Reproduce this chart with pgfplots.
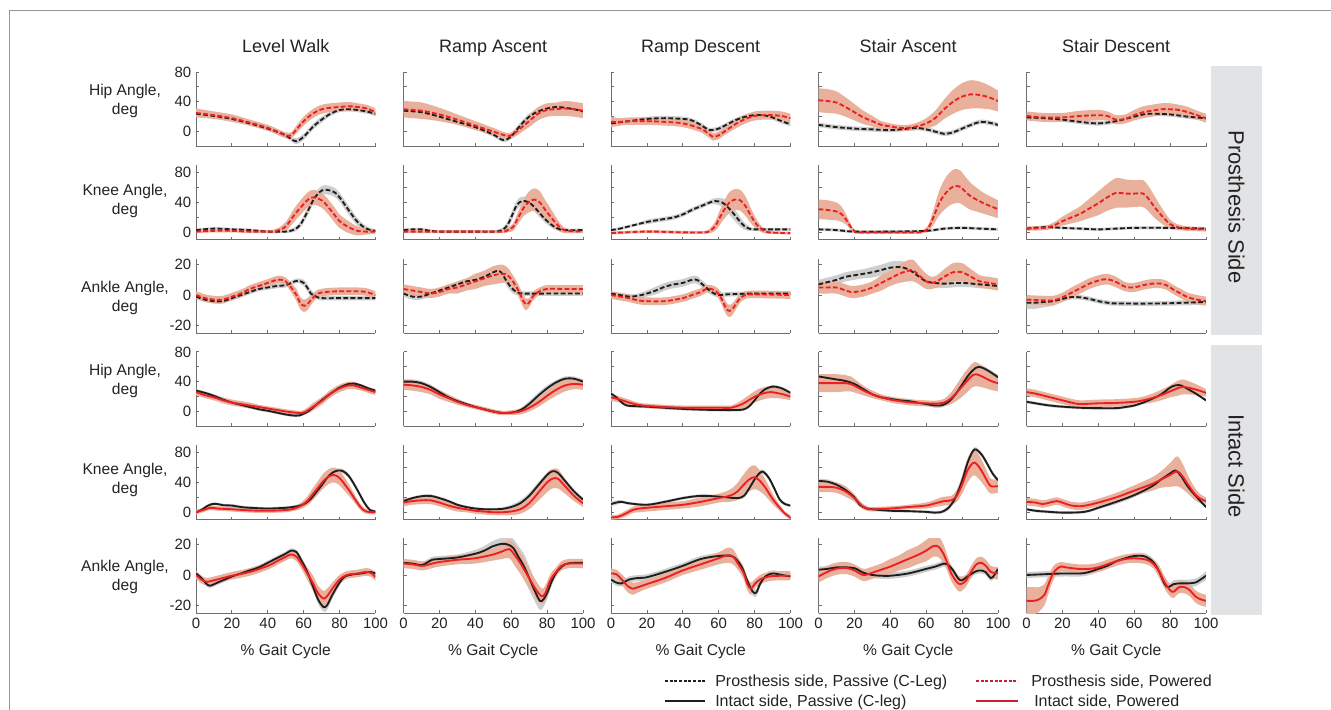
\documentclass[border=0pt]{standalone}
\usepackage{fontspec}
\setmainfont{Liberation Sans}
\usepackage{pgfplots}
\pgfplotsset{compat=1.18}
\usepackage{pgfplotstable}
\usepgfplotslibrary{fillbetween}

\definecolor{lnred}{RGB}{236,32,36}
\definecolor{lgred}{RGB}{205,32,45}
\definecolor{bandred}{RGB}{233,176,156}
\definecolor{bandgray}{RGB}{206,206,206}
\definecolor{lnblk}{RGB}{30,30,30}
\definecolor{axgray}{RGB}{110,110,110}
\definecolor{boxgray}{RGB}{226,227,229}
\definecolor{framegray}{RGB}{150,150,150}
\definecolor{txt}{RGB}{35,35,35}

\newcommand\pxu{0.75pt}

% ---------- Row A: prosthesis hip ----------
\pgfplotstableread[row sep=\\]{x m s\\0 24 3\\10 21 3\\20 17 3\\30 11 3\\40 4 3\\45 0 3\\50 -5 3\\53 -10 3\\56 -13 4\\60 -7 4\\65 6 4\\70 16 4\\75 24 3\\80 29 3\\85 30 3\\90 29 3\\95 27 3\\100 24 3\\}\tabAAk
\pgfplotstableread[row sep=\\]{x m s\\0 25 6\\10 22 5\\20 18 5\\30 12 4\\40 5 4\\45 0 4\\50 -5 4\\53 -5 4\\56 3 5\\60 14 6\\65 24 6\\70 30 6\\75 32 6\\80 33 6\\85 34 6\\90 33 5\\95 31 5\\100 26 5\\}\tabAAr
\pgfplotstableread[row sep=\\]{x m s\\0 28 3\\10 26 3\\20 20 3\\30 13 3\\40 6 3\\50 -4 3\\55 -11 3\\58 -10 3\\61 -4 4\\65 8 4\\70 20 4\\75 27 4\\80 31 3\\85 33 3\\90 32 3\\95 30 3\\100 27 3\\}\tabABk
\pgfplotstableread[row sep=\\]{x m s\\0 30 11\\10 28 11\\20 23 9\\30 16 7\\40 8 6\\50 0 5\\55 -4 4\\59 -6 4\\62 -2 5\\65 4 6\\70 14 8\\75 24 9\\80 29 9\\85 30 9\\90 31 10\\95 30 10\\100 28 10\\}\tabABr
\pgfplotstableread[row sep=\\]{x m s\\0 11 3\\10 14 3\\20 17 3\\30 18 3\\40 17 3\\45 15 3\\50 9 3\\55 2 3\\60 4 3\\65 10 3\\70 16 3\\75 20 3\\80 22 3\\85 22 3\\90 19 3\\95 14 3\\100 10 3\\}\tabACk
\pgfplotstableread[row sep=\\]{x m s\\0 13 7\\5 13 5\\10 14 5\\20 14 5\\30 13 5\\40 11 5\\50 4 5\\55 -4 5\\57 -7 5\\60 -5 5\\65 3 5\\70 11 6\\75 17 6\\80 21 6\\85 22 6\\90 22 6\\95 21 6\\100 18 6\\}\tabACr
\pgfplotstableread[row sep=\\]{x m s\\0 9 3\\10 6 3\\20 4 3\\30 3 3\\40 2 3\\50 4 3\\55 5 3\\60 3 3\\65 0 3\\70 -3 3\\75 -1 3\\80 4 3\\85 9 3\\90 13 3\\95 12 3\\100 9 3\\}\tabADk
\pgfplotstableread[row sep=\\]{x m s\\0 42 16\\5 41 16\\10 39 15\\15 33 13\\20 26 11\\25 19 9\\30 14 7\\35 9 5\\40 7 4\\45 5 4\\50 5 4\\55 7 5\\60 11 7\\65 18 10\\70 30 13\\75 40 16\\80 47 18\\85 50 19\\90 49 18\\95 46 16\\100 41 14\\}\tabADr
\pgfplotstableread[row sep=\\]{x m s\\0 19 3\\10 18 3\\20 16 3\\30 13 3\\40 11 3\\50 14 3\\55 17 3\\60 20 3\\65 23 3\\70 24 3\\80 23 3\\90 20 3\\100 18 3\\}\tabAEk
\pgfplotstableread[row sep=\\]{x m s\\0 21 6\\10 19 6\\20 19 6\\30 21 7\\40 22 7\\45 21 6\\50 16 6\\55 17 6\\60 22 7\\65 26 8\\70 28 8\\75 30 8\\80 30 8\\85 29 7\\90 26 7\\95 22 6\\100 18 6\\}\tabAEr

% ---------- Row B: prosthesis knee ----------
\pgfplotstableread[row sep=\\]{x m s\\0 3 2\\10 5 2\\20 4 2\\30 3 2\\40 1 2\\50 1 2\\55 4 3\\58 10 4\\60 18 5\\63 32 6\\66 46 6\\70 56 6\\73 57 6\\77 54 6\\80 47 6\\85 30 6\\90 14 5\\95 5 3\\100 2 2\\}\tabBAk
\pgfplotstableread[row sep=\\]{x m s\\0 1 2\\10 2 2\\20 2 2\\30 1 2\\40 1 2\\45 2 3\\50 8 6\\55 24 9\\60 38 10\\63 45 10\\66 47 10\\70 43 10\\73 36 10\\77 24 10\\80 15 9\\85 7 8\\90 2 6\\95 1 4\\100 1 3\\}\tabBAr
\pgfplotstableread[row sep=\\]{x m s\\0 3 2\\5 4 2\\10 4 2\\15 2 2\\20 1 2\\30 1 2\\40 1 2\\50 1 2\\55 3 3\\58 10 5\\60 20 6\\63 36 6\\66 42 6\\70 40 6\\74 31 6\\78 20 5\\82 11 4\\86 5 3\\90 3 2\\100 3 2\\}\tabBBk
\pgfplotstableread[row sep=\\]{x m s\\0 1 2\\20 1 2\\40 1 2\\55 1 2\\58 3 3\\61 7 5\\64 20 8\\67 33 11\\70 41 14\\73 44 15\\76 40 15\\79 30 13\\82 21 11\\85 12 8\\88 5 5\\91 2 3\\100 1 2\\}\tabBBr
\pgfplotstableread[row sep=\\]{x m s\\0 3 2\\5 5 2\\10 8 2\\15 11 2\\20 14 3\\25 16 3\\30 18 3\\35 20 3\\40 24 3\\45 30 3\\50 35 3\\55 40 3\\58 42 4\\62 40 6\\65 34 8\\68 26 8\\71 17 7\\74 9 5\\77 5 3\\80 4 2\\90 4 2\\100 4 2\\}\tabBCk
\pgfplotstableread[row sep=\\]{x m s\\0 -1 2\\20 1 2\\40 0 2\\52 0 2\\55 2 3\\58 8 6\\60 17 9\\63 30 12\\66 40 14\\69 44 14\\72 43 14\\75 35 13\\78 22 10\\81 11 7\\84 4 4\\88 0 2\\100 -1 2\\}\tabBCr
\pgfplotstableread[row sep=\\]{x m s\\0 4 2\\10 3 2\\20 1 2\\40 1 2\\60 2 2\\70 5 2\\80 6 2\\90 5 2\\100 4 2\\}\tabBDk
\pgfplotstableread[row sep=\\]{x m s\\0 31 13\\5 30 13\\10 28 12\\13 24 10\\16 15 6\\18 7 4\\20 2 2\\22 0 2\\40 0 2\\55 0 2\\58 1 2\\61 5 4\\64 20 10\\67 38 16\\70 50 20\\73 58 22\\76 62 23\\79 61 22\\82 54 20\\85 48 18\\88 44 16\\92 39 14\\96 35 13\\100 31 12\\}\tabBDr
\pgfplotstableread[row sep=\\]{x m s\\0 5 2\\10 7 2\\20 6 2\\30 5 2\\40 4 2\\50 5 2\\60 6 2\\80 6 2\\100 5 2\\}\tabBEk
\pgfplotstableread[row sep=\\]{x m s\\0 5 3\\10 6 3\\15 9 4\\20 15 6\\25 20 8\\30 25 10\\35 32 13\\40 39 16\\45 47 18\\50 53 20\\55 52 19\\60 52 18\\65 52 18\\68 45 17\\71 35 15\\74 26 12\\77 18 9\\80 11 6\\84 7 4\\90 5 3\\100 4 3\\}\tabBEr

% ---------- Row C: prosthesis ankle ----------
\pgfplotstableread[row sep=\\]{x m s\\0 -1 1.5\\5 -3 1.5\\10 -4 1.5\\15 -4 1.5\\20 -2 1.5\\25 0 1.5\\30 2 1.5\\35 4 1.5\\40 5 1.5\\45 6 1.5\\50 6.5 1.5\\55 9 1.5\\57 9.5 1.5\\60 8 2\\62 5 2.5\\64 1 2.5\\67 -1 1.5\\70 -2 1.5\\80 -2 1.5\\90 -2 1.5\\100 -2 1.5\\}\tabCAk
\pgfplotstableread[row sep=\\]{x m s\\0 0 2.5\\5 -2 2.5\\10 -3 2.5\\15 -3 2.5\\20 -1 2.5\\25 1 2.5\\30 4 2.5\\35 6 2.5\\40 8 2.5\\45 10 2.5\\48 10 2.5\\50 9 2.5\\53 5 3\\56 0 4\\58 -5 4\\60 -7 4\\62 -6 4\\65 -2 3\\68 1 2.5\\72 2 2.5\\80 2.5 2.5\\90 2.5 2.5\\95 2 2.5\\100 0 2.5\\}\tabCAr
\pgfplotstableread[row sep=\\]{x m s\\0 1 2\\5 -1 2\\10 -1 2\\15 1 2\\20 3 2\\25 5 2\\30 7 2\\35 9 2\\40 10 2\\45 12 2\\50 15 2\\53 16 2\\55 14 2.5\\57 10 3\\60 5 3\\63 2 2\\67 1 1.5\\80 1 1.5\\100 1 1.5\\}\tabCBk
\pgfplotstableread[row sep=\\]{x m s\\0 4 3\\5 3 3\\10 2 3\\15 1 3\\20 2 3\\25 4 3\\30 5 4\\35 7 4\\40 9 5\\45 11 5\\50 13 6\\55 14 6\\58 13 5\\61 9 4\\64 3 4\\66 -2 4\\68 -6 4\\70 -5 3\\72 -1 3\\75 2 2.5\\80 4 2.5\\90 4 2.5\\100 4 2.5\\}\tabCBr
\pgfplotstableread[row sep=\\]{x m s\\0 1 1.5\\5 0 1.5\\10 -1 1.5\\15 -0.5 1.5\\20 1 2\\25 3 2.5\\30 5.5 2.5\\35 7 2.5\\40 8 2.5\\45 10 2.5\\48 10 2.5\\50 8 2.5\\53 5 2.5\\56 2 2\\60 0 1.5\\65 0.5 1.5\\80 1 1.5\\100 1 1.5\\}\tabCCk
\pgfplotstableread[row sep=\\]{x m s\\0 0 2.5\\5 -1 2.5\\10 -2 2.5\\15 -3.5 2.5\\20 -4 2.5\\30 -4 2.5\\40 -2 2.5\\45 0 2.5\\50 2 2.5\\53 4 2.5\\56 4 2.5\\59 2 3\\61 -1 3.5\\63 -6 4\\65 -10 4\\67 -10 4\\69 -7 3.5\\72 -2 3\\75 0 2.5\\80 0.5 2.5\\100 0 2.5\\}\tabCCr
\pgfplotstableread[row sep=\\]{x m s\\0 7 3\\5 8.5 3\\10 10 3\\15 12 3\\20 13 3\\25 14 3\\30 15 3.5\\35 16.5 3.5\\40 18 4\\45 18.5 4\\50 17 4\\55 13 3.5\\60 9 3\\65 8 3\\70 7.5 3\\80 8 2.5\\90 7 2.5\\100 6 2.5\\}\tabCDk
\pgfplotstableread[row sep=\\]{x m s\\0 5 4\\5 5 4\\10 5 4\\14 3.5 4\\18 2 4\\20 2 4\\25 3 4\\30 5 4\\35 8 5\\40 11 5\\45 14 6\\50 16 7\\53 16 7\\56 13 6\\60 9 5\\63 8 4\\66 9 4\\70 12 5\\75 15 6\\80 15 6\\85 12 5\\90 9 4\\95 8 4\\100 7 4\\}\tabCDr
\pgfplotstableread[row sep=\\]{x m s\\0 -5 4\\5 -5 4\\10 -4.5 3.5\\15 -4 3\\20 -2.5 2\\25 -1.3 1.5\\30 -1.5 1.5\\35 -2.5 1.5\\40 -4 1.5\\45 -5 1.5\\50 -5.5 1.5\\75 -5.5 1.5\\100 -4.5 2\\}\tabCEk
\pgfplotstableread[row sep=\\]{x m s\\0 -3 3\\10 -3.5 3\\15 -3.5 3\\20 -1.5 3\\25 1.5 3.5\\30 4.5 3.5\\35 7.5 3.5\\40 9.5 3.5\\45 10.5 3.5\\50 8.5 3.5\\55 5.5 3\\60 5 3\\65 6.5 3\\70 7.5 3\\75 7.5 3\\78 6.5 3\\82 3.5 3\\86 1 3\\90 -1.5 3\\95 -3 3\\100 -4 3\\}\tabCEr

% ---------- Row D: intact hip ----------
\pgfplotstableread[row sep=\\]{x m s\\0 28 2\\5 25 2\\10 21 2\\15 16 2\\20 12 2\\25 9 2\\30 6 2\\35 3 2\\40 1 2\\45 -1.5 2\\50 -4 2\\55 -5.5 2\\58 -5 2\\60 -3 2\\63 1 2\\66 7 2\\70 15 2\\75 24 2\\80 32 2\\85 37 2\\88 37.5 2\\92 35 2\\96 31 2\\100 28 2\\}\tabDAk
\pgfplotstableread[row sep=\\]{x m s\\0 26 4\\5 22 4\\10 19 4\\15 15 4\\20 12 4\\25 10 4\\30 8 4\\35 6 3\\40 4 3\\45 2 3\\50 0 3\\55 -1.5 3\\59 -2 3\\62 1 4\\65 6 5\\70 14 5\\75 24 5\\80 31 5\\85 35 5\\88 35 5\\92 32 4\\96 29 4\\100 26 4\\}\tabDAr
\pgfplotstableread[row sep=\\]{x m s\\0 40 3\\5 40 3\\10 38 3\\15 33 3\\20 26 3\\25 19 3\\30 14 3\\35 10 2\\40 6 2\\45 3 2\\50 0 2\\55 -2 2\\60 -1.5 2\\63 0 2\\66 3 3\\70 10 4\\75 21 4\\80 31 4\\85 39 3\\90 44 3\\95 44 3\\100 40 3\\}\tabDBk
\pgfplotstableread[row sep=\\]{x m s\\0 36 7\\5 35 7\\10 33 7\\15 29 6\\20 23 6\\25 18 5\\30 13 4\\35 9 3\\40 6 3\\45 3 3\\50 0 3\\55 -2 3\\60 -1.5 3\\65 0 4\\70 5 5\\75 12 6\\80 21 7\\85 29 8\\90 35 8\\95 37 7\\100 36 7\\}\tabDBr
\pgfplotstableread[row sep=\\]{x m s\\0 24 2\\3 19 2\\6 12 2\\9 8 2\\15 7 2\\20 6.5 2\\30 5 2\\40 3.5 2\\50 2.5 2\\60 2 2\\70 2 2\\74 3 2\\77 7 2\\80 15 2\\83 24 2\\86 30 2\\90 33.5 2\\94 32 2\\97 29 2\\100 25 2\\}\tabDCk
\pgfplotstableread[row sep=\\]{x m s\\0 19 5\\5 16 4\\10 12 4\\15 9 3\\20 7.5 3\\30 6 3\\40 5 3\\50 5 3\\60 5 3\\67 5 3\\70 7 4\\74 11 6\\78 17 7\\82 22 8\\86 25 8\\89 26 8\\92 25 7\\96 23 6\\100 20 5\\}\tabDCr
\pgfplotstableread[row sep=\\]{x m s\\0 47 3\\5 45 3\\10 43 3\\15 41 3\\20 37 3\\25 30 3\\30 23 3\\35 19 3\\40 17 3\\45 15 3\\50 14 3\\55 12 3\\60 10 3\\65 8 3\\68 8 3\\72 12 3\\76 22 3\\80 36 3\\84 50 3\\88 59 3\\91 59 3\\95 54 3\\100 46 3\\}\tabDDk
\pgfplotstableread[row sep=\\]{x m s\\0 38 12\\5 38 12\\10 38 12\\15 38 11\\18 37 10\\22 32 8\\26 27 6\\30 23 5\\35 19 4\\40 16 4\\45 14 4\\50 12.5 4\\55 11.5 4\\60 11 4\\65 10.5 4\\70 12 5\\74 18 8\\78 28 12\\82 39 15\\86 49 16\\88 50 16\\92 46 14\\96 41 12\\100 38 11\\}\tabDDr
\pgfplotstableread[row sep=\\]{x m s\\0 13 2\\5 11 2\\10 9 2\\15 7.5 2\\20 6.5 2\\30 5 2\\40 4.5 2\\50 4.5 2\\55 6 2\\60 8 2\\65 12 2\\70 17 2\\75 23 2\\80 32 2\\83 35 2\\86 35 2\\90 30 2\\95 23 2\\100 15 2\\}\tabDEk
\pgfplotstableread[row sep=\\]{x m s\\0 26 5\\5 24 5\\10 21 5\\15 18 5\\20 15 5\\25 12 5\\30 10 5\\40 11 5\\50 11.5 5\\60 13 5\\65 15 5\\70 18 6\\75 22 7\\80 27 8\\84 31 10\\87 33 10\\90 32 9\\95 29 7\\100 25 5\\}\tabDEr

% ---------- Row E: intact knee ----------
\pgfplotstableread[row sep=\\]{x m s\\0 0 1.5\\3 3 2\\6 8 2\\9 11 2\\12 11 2\\15 9.5 2\\20 9 2\\25 7 2\\30 6 2\\40 5 2\\50 6 2\\55 7.5 2\\58 9 2\\61 12 2\\64 18 3\\67 27 3\\70 36 3\\73 46 3\\76 53 3\\79 56 3\\82 55 3\\85 49 3\\88 38 3\\91 25 3\\94 12 3\\97 3 2\\100 1 2\\}\tabEAk
\pgfplotstableread[row sep=\\]{x m s\\0 0 3\\4 3 3\\8 6 3\\12 5 3\\20 4 3\\30 2.5 3\\40 2 3\\50 3 3\\55 5 3\\58 8 4\\62 15 6\\65 24 8\\68 33 9\\71 42 10\\74 48 10\\77 50 10\\80 46 10\\83 37 9\\86 27 7\\89 16 5\\92 6 4\\95 1 3\\100 0 3\\}\tabEAr
\pgfplotstableread[row sep=\\]{x m s\\0 15 2\\5 19 2\\10 21.5 2\\15 22 2\\20 19 2\\25 15 2\\30 10 2\\35 7 2\\40 5 2\\45 4 2\\50 4 2\\55 4.5 2\\60 7 3\\65 12 4\\70 22 4\\75 36 4\\80 50 3\\83 55 3\\86 53 3\\90 42 3\\95 28 3\\100 17 2\\}\tabEBk
\pgfplotstableread[row sep=\\]{x m s\\0 13 5\\5 15 5\\10 16 5\\15 16 5\\20 13 5\\25 9 5\\30 6 5\\35 4 4\\40 2 4\\45 1 4\\50 0 4\\55 0 4\\60 1 5\\65 4 6\\70 12 8\\75 26 11\\80 40 13\\83 45 13\\86 45 13\\90 35 10\\95 22 7\\100 12 5\\}\tabEBr
\pgfplotstableread[row sep=\\]{x m s\\0 11 3\\3 13 3\\6 14 2\\10 12 2\\20 10 2\\30 14 2\\40 19 2\\50 22 2\\60 21 2\\70 19 2\\74 22 3\\77 32 3\\80 44 3\\83 53 3\\85 54 3\\88 46 3\\91 32 3\\94 17 3\\97 11 2\\100 9 2\\}\tabECk
\pgfplotstableread[row sep=\\]{x m s\\0 -7 3\\4 -6 3\\8 -2 4\\12 3 4\\16 5 5\\20 6 5\\30 8 5\\40 10 5\\50 14 6\\60 19 6\\66 22 8\\70 27 11\\74 37 14\\77 44 16\\80 47 16\\83 42 14\\86 33 11\\90 18 7\\94 6 4\\97 -2 3\\100 -7 3\\}\tabECr
\pgfplotstableread[row sep=\\]{x m s\\0 42 3\\5 41 3\\10 37 3\\15 30 3\\20 20 3\\23 10 3\\27 5 2\\30 4 2\\40 2 2\\50 1.5 2\\55 1 2\\60 0.5 2\\65 -0.5 2\\68 0 2\\72 5 3\\76 18 3\\80 42 3\\83 66 3\\86 82 3\\88 84 3\\91 77 3\\94 65 3\\97 52 3\\100 43 3\\}\tabEDk
\pgfplotstableread[row sep=\\]{x m s\\0 34 7\\5 34 7\\10 33 7\\15 28 7\\20 19 5\\24 9 4\\27 5 3\\30 4 3\\40 5 3\\50 7 3\\60 9 4\\65 12 5\\70 15 6\\74 16 6\\77 22 8\\80 37 12\\83 56 16\\86 66 17\\88 65 17\\91 55 15\\94 42 12\\96 35 10\\100 35 9\\}\tabEDr
\pgfplotstableread[row sep=\\]{x m s\\0 4 2\\5 2 2\\10 1 2\\20 -0.5 2\\30 0 2\\35 2 2\\40 6 2\\50 14 3\\60 23 3\\70 35 3\\75 44 3\\80 52 3\\83 56 3\\86 49 3\\90 34 3\\95 20 3\\100 7 2\\}\tabEEk
\pgfplotstableread[row sep=\\]{x m s\\0 14 5\\5 13 5\\9 11 5\\13 13 5\\17 15 5\\21 12 5\\25 9 5\\30 8 5\\35 10 5\\40 13 5\\50 20 6\\60 29 7\\70 38 9\\75 44 11\\80 50 16\\84 55 20\\87 48 17\\90 37 12\\94 24 8\\97 18 6\\100 15 5\\}\tabEEr

% ---------- Row F: intact ankle ----------
\pgfplotstableread[row sep=\\]{x m s\\0 1 1.5\\3 -2 1.5\\6 -6 1.5\\8 -7 1.5\\12 -5 1.5\\16 -3 1.5\\20 -1 1.5\\25 1 1.5\\30 3 1.5\\35 5 1.5\\40 8 1.5\\45 11 1.5\\50 14 1.5\\53 16 1.5\\56 15 1.5\\59 9 2\\62 2 2\\65 -7 2.5\\68 -16 3\\71 -21 3\\73 -20 3\\76 -13 2.5\\80 -5 2\\83 -1 1.5\\88 0.5 1.5\\92 1 1.5\\97 2 1.5\\100 1 1.5\\}\tabFAk
\pgfplotstableread[row sep=\\]{x m s\\0 0 2.5\\3 -3 2.5\\6 -4.5 2.5\\10 -3.5 2.5\\15 -2 2.5\\20 -0.5 2.5\\30 2 2.5\\40 6 2.5\\45 9 2.5\\50 12 2.5\\53 13.5 2.5\\56 12 3\\59 7 3.5\\62 1 4\\65 -5 5\\68 -12 5\\71 -15.5 5\\73 -14 5\\76 -9 4\\80 -3 3\\84 0 2.5\\90 1 2.5\\95 2 2.5\\98 1 2.5\\100 -1.5 2.5\\}\tabFAr
\pgfplotstableread[row sep=\\]{x m s\\0 8 2\\5 7.5 2\\10 6.5 2\\13 8 2\\16 10 2\\20 10.5 2\\30 11.5 2\\40 14 2.5\\45 16 3\\50 19 3.5\\55 20.5 4\\58 20 5\\61 18 6\\64 12 7\\67 6 8\\70 -2 8\\73 -10 7\\76 -17 6\\78 -16 5\\80 -12 4\\83 -3 3\\86 3 2\\90 7 2\\95 8 2\\100 8 2\\}\tabFBk
\pgfplotstableread[row sep=\\]{x m s\\0 7.5 3\\5 7 3\\10 6 3\\13 6.5 3\\16 7.5 3\\20 8.5 3\\30 10 3\\40 11 3.5\\50 13.5 4\\55 15.5 5\\59 17 6\\62 13 7\\65 8 7\\68 2 7\\71 -4 6\\74 -10 6\\77 -14 5\\79 -12 5\\82 -3 4\\85 2 3\\88 6 3\\92 7.5 3\\100 7.5 3\\}\tabFBr
\pgfplotstableread[row sep=\\]{x m s\\0 -3 2\\3 -5 2\\6 -5.5 2\\10 -3 2\\15 -2 2\\20 -1.5 2\\30 2 2\\40 6 2\\50 10.5 2\\60 12.5 2\\67 12.5 2\\70 10 2\\73 5 2\\76 -4 2\\79 -11 2.5\\81 -11.5 2.5\\83 -6 2\\86 -1 2\\90 1 2\\95 0 2\\100 -1 2\\}\tabFCk
\pgfplotstableread[row sep=\\]{x m s\\0 1 3\\3 0.5 3\\6 -3 3.5\\9 -7 4\\12 -9 4\\15 -8 3.5\\20 -6 3\\30 -2 3\\40 3 3\\50 7 3.5\\60 11 4\\65 13 5\\68 12 5\\71 7 4\\74 1 4\\76 -6 4\\78 -9 4\\80 -6 3\\83 -3 3\\88 -1 3\\95 -0.5 3\\100 -0.5 3\\}\tabFCr
\pgfplotstableread[row sep=\\]{x m s\\0 3.5 2\\5 4 2\\10 5 2\\15 5 2\\20 4.5 2\\25 1.5 2\\30 0 2\\35 -0.5 2\\40 -0.5 2\\50 1 2\\60 4 2\\65 5.5 2\\70 7.5 2\\72 7 2\\75 3 2\\78 -2.5 2\\80 -3.5 2\\83 -1 2\\87 2 2\\90 3 2\\93 2 2\\96 -2 2\\98 0 2\\100 4 2\\}\tabFDk
\pgfplotstableread[row sep=\\]{x m s\\0 -1 4\\4 1.5 4\\8 3.5 4\\12 4.5 4\\16 4.5 4\\20 3 4\\25 0 4\\30 1.5 4\\35 3.5 4\\40 5.5 5\\45 8 5\\50 10.5 6\\55 13 6\\60 16 7\\64 19 7\\67 18.5 7\\70 13 6\\72 7 5\\74 1 5\\77 -4.5 5\\79 -6 5\\82 -4 4\\85 2 4\\88 7 4\\91 8 4\\94 5 4\\96 2 4\\100 1 4\\}\tabFDr
\pgfplotstableread[row sep=\\]{x m s\\0 0 2\\10 0.5 2\\20 1 2\\30 1 2\\35 2 2\\40 4 2\\45 6 2\\50 9 2\\55 11 2\\60 12.5 2\\65 12.5 2\\68 11 2\\71 8 2\\74 2 2\\77 -6 2\\79 -8 2\\82 -6 2.5\\86 -5.5 2.5\\90 -5.5 2.5\\94 -5 2.5\\97 -3 2.5\\100 -0.5 3\\}\tabFEk
\pgfplotstableread[row sep=\\]{x m s\\0 -17 9\\4 -17 9\\7 -16 8\\10 -13 7\\12 -7 6\\14 -1 5\\16 3 4\\19 5.5 3\\22 5 3\\29 4 3\\35 4 3\\40 5 3\\45 7 3\\50 9 3\\55 10.5 3\\60 11 3\\65 10.5 3\\68 9.5 3\\71 7 3\\74 2 4\\77 -5 4\\80 -10 4\\82 -11 4\\85 -8 4\\88 -8 4\\91 -10 4\\94 -14 4\\97 -16 4\\100 -17 4\\}\tabFEr

\pgfplotsset{
  base/.style={scale only axis, width=134.6pt, height=55.9pt, anchor=south west,
    xmin=0, xmax=100, axis lines*=left,
    axis line style={draw=axgray, line width=0.75pt, -},
    tick align=inside, major tick length=2.4pt,
    tick style={draw=axgray, line width=0.6pt},
    xtick={0,20,...,100}, xticklabels={}, yticklabels={},
    tick label style={font=\fontsize{11.2}{13}\selectfont, text=txt},
    /pgf/number format/assume math mode=true},
  hip/.style={ymin=-20, ymax=80, ytick={0,20,...,80}},
  knee/.style={ymin=-10, ymax=90, ytick={0,20,...,80}},
  ankle/.style={ymin=-25, ymax=24, ytick={-20,0,20}},
  lab48/.style={yticklabels={0,,40,,80}},
  labA/.style={yticklabels={-20,0,20}},
  labX/.style={xticklabels={0,20,40,60,80,100}},
  sm/.style={smooth, tension=0.55},
  dsh/.style={dash pattern=on 3.6pt off 1.8pt},
}

\newcommand{\panel}[6]{%
\begin{axis}[base, at={(#1*\pxu,-#2*\pxu)}, #3]
\addplot[sm, draw=none, name path=ku] table[x=x, y expr=\thisrow{m}+\thisrow{s}] {#4};
\addplot[sm, draw=none, name path=kl] table[x=x, y expr=\thisrow{m}-\thisrow{s}] {#4};
\addplot[fill=bandgray, draw=none] fill between[of=ku and kl];
\addplot[sm, draw=none, name path=ru] table[x=x, y expr=\thisrow{m}+\thisrow{s}] {#5};
\addplot[sm, draw=none, name path=rl] table[x=x, y expr=\thisrow{m}-\thisrow{s}] {#5};
\addplot[fill=bandred, draw=none] fill between[of=ru and rl];
\addplot[sm, lnblk, line width=1.4pt, #6] table[x=x, y=m] {#4};
\addplot[sm, lnred, line width=1.4pt, #6] table[x=x, y=m] {#5};
\end{axis}}

\begin{document}
\begin{tikzpicture}
\path (0,0) rectangle (1331*\pxu,-710*\pxu);
\draw[framegray, line width=0.75pt] (9.7*\pxu,-709.5*\pxu) -- (9.7*\pxu,-10.5*\pxu) -- (1330.5*\pxu,-10.5*\pxu);

% side boxes
\fill[boxgray] (1211*\pxu,-65.7*\pxu) rectangle (1262*\pxu,-335*\pxu);
\fill[boxgray] (1211*\pxu,-345*\pxu) rectangle (1262*\pxu,-614.5*\pxu);
\node[rotate=-90, text=txt, font=\fontsize{16.5}{18}\selectfont] at (1236.5*\pxu,-207*\pxu) {Prosthesis Side};
\node[rotate=-90, text=txt, font=\fontsize{16.5}{18}\selectfont] at (1236.5*\pxu,-466*\pxu) {Intact Side};

% column titles
\foreach \cx/\tt in {285.7/Level Walk, 493.2/Ramp Ascent, 700.7/Ramp Descent, 908.2/Stair Ascent, 1116.2/Stair Descent}
  \node[anchor=base, text=txt, font=\fontsize{13.5}{16}\selectfont] at (\cx*\pxu,-52.5*\pxu) {\tt};

% row labels
\foreach \ry/\tt in {101/Hip, 201/Knee, 297.5/Ankle, 381/Hip, 480/Knee, 577/Ankle}
  \node[align=center, text=txt, font=\fontsize{11.7}{14.3}\selectfont] at (125*\pxu,-\ry*\pxu) {\tt\ Angle,\\deg};

% x labels
\foreach \cx in {285.7, 493.2, 700.7, 908.2, 1116.2}
  \node[anchor=base, text=txt, font=\fontsize{11.7}{14}\selectfont] at (\cx*\pxu,-655*\pxu) {\% Gait Cycle};

% ---- Row A
\panel{196}{146.5}{hip, lab48}{\tabAAk}{\tabAAr}{dsh}
\panel{403.5}{146.5}{hip}{\tabABk}{\tabABr}{dsh}
\panel{611}{146.5}{hip}{\tabACk}{\tabACr}{dsh}
\panel{818.5}{146.5}{hip}{\tabADk}{\tabADr}{dsh}
\panel{1026.5}{146.5}{hip}{\tabAEk}{\tabAEr}{dsh}
% ---- Row B
\panel{196}{239.8}{knee, lab48}{\tabBAk}{\tabBAr}{dsh}
\panel{403.5}{239.8}{knee}{\tabBBk}{\tabBBr}{dsh}
\panel{611}{239.8}{knee}{\tabBCk}{\tabBCr}{dsh}
\panel{818.5}{239.8}{knee}{\tabBDk}{\tabBDr}{dsh}
\panel{1026.5}{239.8}{knee}{\tabBEk}{\tabBEr}{dsh}
% ---- Row C
\panel{196}{333.1}{ankle, labA}{\tabCAk}{\tabCAr}{dsh}
\panel{403.5}{333.1}{ankle}{\tabCBk}{\tabCBr}{dsh}
\panel{611}{333.1}{ankle}{\tabCCk}{\tabCCr}{dsh}
\panel{818.5}{333.1}{ankle}{\tabCDk}{\tabCDr}{dsh}
\panel{1026.5}{333.1}{ankle}{\tabCEk}{\tabCEr}{dsh}
% ---- Row D
\panel{196}{426.4}{hip, lab48}{\tabDAk}{\tabDAr}{solid}
\panel{403.5}{426.4}{hip}{\tabDBk}{\tabDBr}{solid}
\panel{611}{426.4}{hip}{\tabDCk}{\tabDCr}{solid}
\panel{818.5}{426.4}{hip}{\tabDDk}{\tabDDr}{solid}
\panel{1026.5}{426.4}{hip}{\tabDEk}{\tabDEr}{solid}
% ---- Row E
\panel{196}{519.7}{knee, lab48}{\tabEAk}{\tabEAr}{solid}
\panel{403.5}{519.7}{knee}{\tabEBk}{\tabEBr}{solid}
\panel{611}{519.7}{knee}{\tabECk}{\tabECr}{solid}
\panel{818.5}{519.7}{knee}{\tabEDk}{\tabEDr}{solid}
\panel{1026.5}{519.7}{knee}{\tabEEk}{\tabEEr}{solid}
% ---- Row F
\panel{196}{613}{ankle, labA, labX}{\tabFAk}{\tabFAr}{solid}
\panel{403.5}{613}{ankle, labX}{\tabFBk}{\tabFBr}{solid}
\panel{611}{613}{ankle, labX}{\tabFCk}{\tabFCr}{solid}
\panel{818.5}{613}{ankle, labX}{\tabFDk}{\tabFDr}{solid}
\panel{1026.5}{613}{ankle, labX}{\tabFEk}{\tabFEr}{solid}

% legend
\draw[lnblk, line width=1.1pt, dash pattern=on 2.2pt off 1.3pt] (665*\pxu,-681.2*\pxu) -- (705*\pxu,-681.2*\pxu);
\draw[lnblk, line width=1.5pt] (665*\pxu,-701.2*\pxu) -- (705*\pxu,-701.2*\pxu);
\draw[lgred, line width=1.1pt, dash pattern=on 2.2pt off 1.3pt] (976*\pxu,-681.2*\pxu) -- (1018*\pxu,-681.2*\pxu);
\draw[lgred, line width=1.5pt] (976*\pxu,-701.2*\pxu) -- (1018*\pxu,-701.2*\pxu);
\node[anchor=base west, inner sep=0pt, text=txt, font=\fontsize{12}{14}\selectfont] at (715*\pxu,-686.4*\pxu) {Prosthesis side, Passive (C-Leg)};
\node[anchor=base west, inner sep=0pt, text=txt, font=\fontsize{12}{14}\selectfont] at (715*\pxu,-706.2*\pxu) {Intact side, Passive (C-leg)};
\node[anchor=base west, inner sep=0pt, text=txt, font=\fontsize{12}{14}\selectfont] at (1031*\pxu,-686.4*\pxu) {Prosthesis side, Powered};
\node[anchor=base west, inner sep=0pt, text=txt, font=\fontsize{12}{14}\selectfont] at (1034*\pxu,-706.2*\pxu) {Intact side, Powered};
\end{tikzpicture}
\end{document}
